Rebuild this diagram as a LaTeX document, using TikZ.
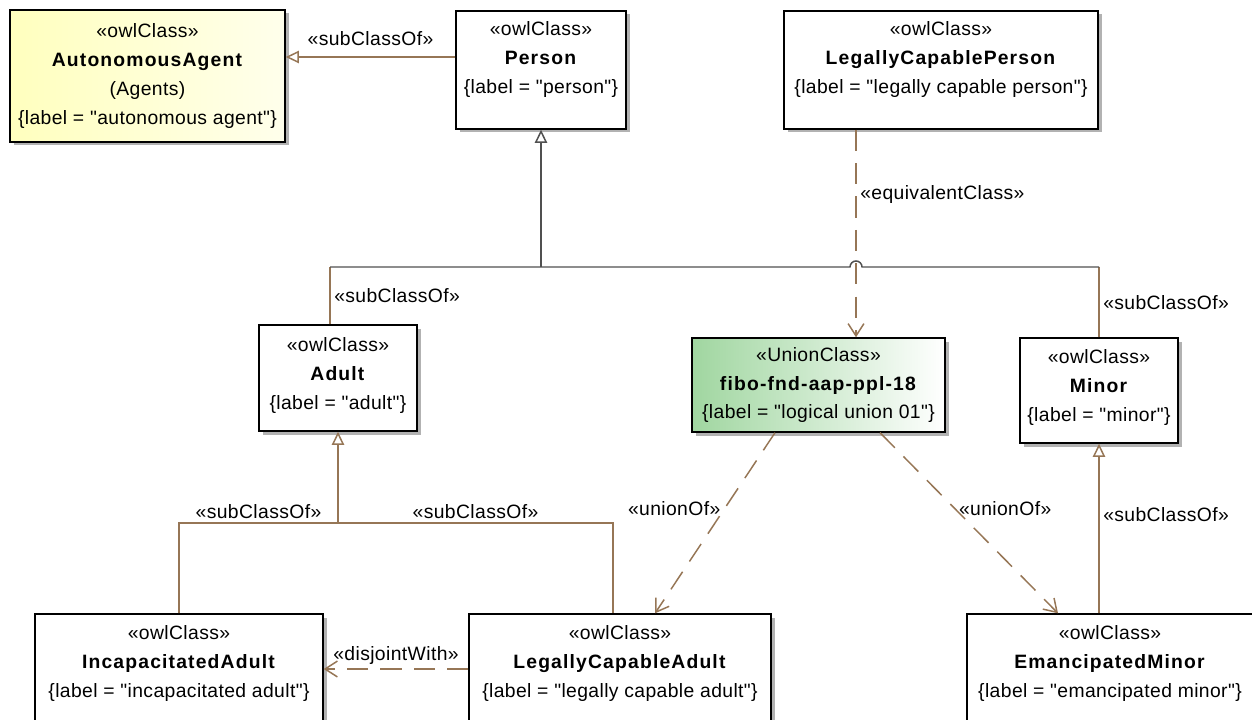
\documentclass[tikz,border=0pt]{standalone}
\usepackage{fontspec}
\setmainfont{Liberation Sans}[Ligatures=TeXOff, LetterSpace=2, BoldFeatures={LetterSpace=6}]
\usetikzlibrary{positioning, arrows.meta, shadows}

\definecolor{linkbrown}{RGB}{150,118,86}
\definecolor{treegray}{RGB}{80,80,80}
\definecolor{agentyellow}{RGB}{255,255,190}
\definecolor{uniongreen}{RGB}{160,214,160}

\begin{document}
\begin{tikzpicture}[
    font=\fontsize{11}{16.5}\selectfont,
    owl/.style={draw, line width=0.8pt, fill=white, align=center, inner sep=0pt,
        drop shadow={shadow xshift=0.07cm, shadow yshift=-0.07cm, fill=black!30, opacity=1}},
    gen/.style={-{Triangle[open, length=7.5pt, width=7pt]}, linkbrown, line width=0.85pt},
    dep/.style={-{Straight Barb[length=7pt, width=9pt]}, linkbrown, line width=0.85pt, dash pattern=on 12pt off 7pt},
    stub/.style={linkbrown, line width=0.85pt},
    trunk/.style={treegray, line width=0.85pt},
    lbl/.style={inner sep=2pt, text=black}
]
\useasboundingbox (0,0) rectangle (25.04,-14.38);

% Top row
\node[owl, minimum width=5.5cm, minimum height=2.64cm, left color=agentyellow, right color=agentyellow!30] (agent) at (2.95,-1.52)
    {«owlClass»\\\textbf{AutonomousAgent}\\(Agents)\\\{label = "autonomous agent"\}};
\node[owl, minimum width=3.4cm, minimum height=2.36cm] (person) at (10.82,-1.40)
    {«owlClass»\\\textbf{Person}\\\{label = "person"\}\\[-2pt]\mbox{}};
\node[owl, minimum width=6.28cm, minimum height=2.36cm] (lcperson) at (18.82,-1.40)
    {«owlClass»\\\textbf{LegallyCapablePerson}\\\{label = "legally capable person"\}\\[-2pt]\mbox{}};

% Middle row
\node[owl, minimum width=3.16cm, minimum height=2.12cm] (adult) at (6.76,-7.56)
    {«owlClass»\\\textbf{Adult}\\\{label = "adult"\}\\[-11pt]\mbox{}};
\node[owl, minimum width=5.06cm, minimum height=1.88cm, left color=uniongreen, right color=white] (union) at (16.37,-7.70)
    {«UnionClass»\\\textbf{fibo-fnd-aap-ppl-18}\\\{label = "logical union 01"\}};
\node[owl, minimum width=3.16cm, minimum height=2.10cm] (minor) at (21.98,-7.81)
    {«owlClass»\\\textbf{Minor}\\\{label = "minor"\}\\[-11pt]\mbox{}};

% Bottom row
\node[owl, minimum width=5.76cm, minimum height=2.2cm] (incap) at (3.58,-13.38)
    {«owlClass»\\\textbf{IncapacitatedAdult}\\\{label = "incapacitated adult"\}\\[-7.5pt]\mbox{}};
\node[owl, minimum width=6.04cm, minimum height=2.2cm] (lcadult) at (12.40,-13.38)
    {«owlClass»\\\textbf{LegallyCapableAdult}\\\{label = "legally capable adult"\}\\[-7.5pt]\mbox{}};
\node[owl, minimum width=5.72cm, minimum height=2.2cm] (eman) at (22.20,-13.38)
    {«owlClass»\\\textbf{EmancipatedMinor}\\\{label = "emancipated minor"\}\\[-7.5pt]\mbox{}};

% Junction points
\coordinate (bus) at (0,-5.34);
\coordinate (lowbus) at (0,-10.46);
\coordinate (hop) at (17.00,-5.34);
\coordinate (eqx) at (17.12,0);
\coordinate (adulttop) at ([xshift=-0.16cm]adult.north);
\coordinate (lcatop) at ([xshift=-0.14cm]lcadult.north);
\coordinate (personleft) at ([yshift=0.26cm]person.west);

% Person -> AutonomousAgent
\draw[gen] (personleft) -- (personleft -| agent.east) node[midway, above=4pt, lbl] {«subClassOf»};

% Adult, Minor -> Person
\draw[stub] (adulttop) -- (adulttop |- bus) node[midway, right, lbl] {«subClassOf»};
\draw[stub] (minor.north) -- (minor.north |- bus) node[midway, right, lbl] {«subClassOf»};
\draw[trunk] (adulttop |- bus) -- (hop) arc[start angle=180, end angle=0, radius=0.12cm] -- (minor.north |- bus);
\draw[gen, treegray] (person.south |- bus) -- (person.south);

% equivalentClass
\draw[dep] (lcperson.south -| eqx) -- (union.north -| eqx) node[pos=0.31, right, lbl] {«equivalentClass»};

% unionOf
\draw[dep] ([xshift=-0.87cm]union.south) -- ([xshift=0.70cm]lcadult.north) node[pos=0.42, left, lbl] {«unionOf»};
\draw[dep] ([xshift=1.23cm]union.south) -- ([xshift=-1.04cm]eman.north) node[pos=0.42, right, lbl] {«unionOf»};

% EmancipatedMinor -> Minor
\draw[gen] (eman.north -| minor.south) -- (minor.south) node[pos=0.58, right, lbl] {«subClassOf»};

% IncapacitatedAdult, LegallyCapableAdult -> Adult
\draw[stub] (incap.north) |- node[pos=0.75, above, lbl] {«subClassOf»} (adult.south |- lowbus)
    -| node[pos=0.25, above, lbl] {«subClassOf»} (lcatop);
\draw[gen] (adult.south |- lowbus) -- (adult.south);

% disjointWith
\draw[dep] (lcadult.west) -- (incap.east) node[midway, above, lbl] {«disjointWith»};

\end{tikzpicture}
\end{document}
